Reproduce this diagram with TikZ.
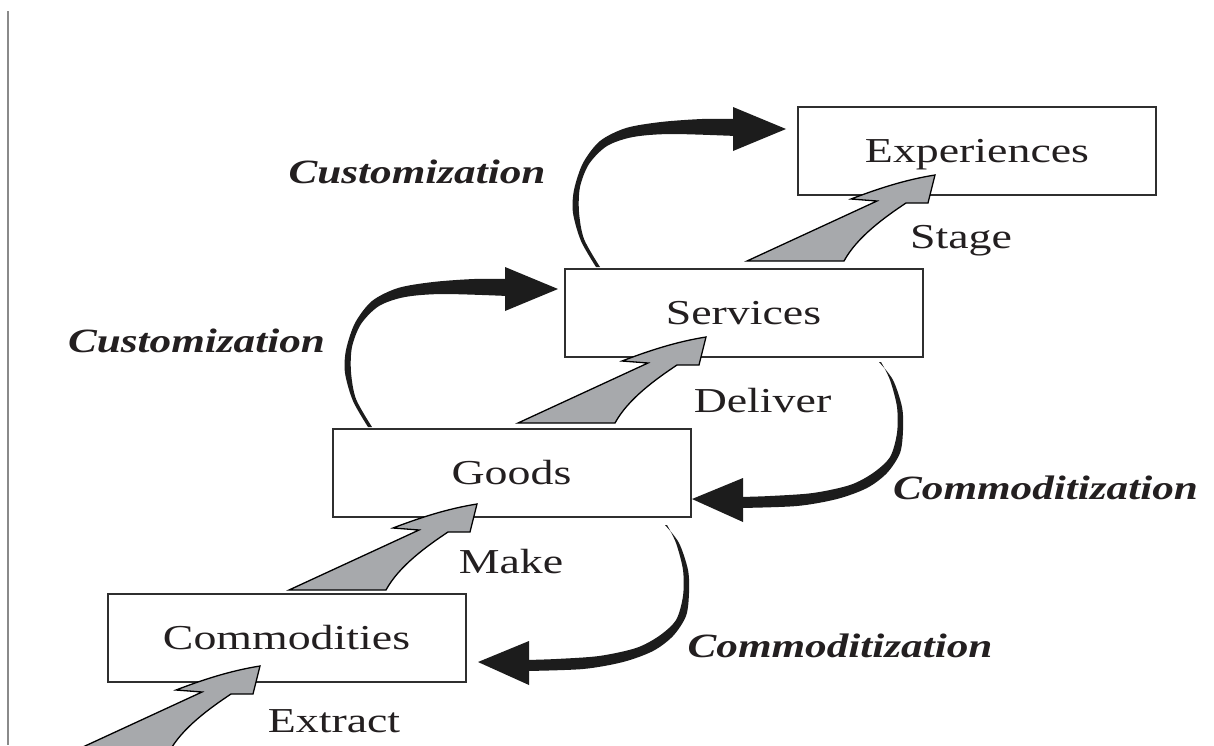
\documentclass[tikz,border=0pt]{standalone}
\usepackage{fontspec}
\newfontfamily\labfont{Liberation Serif}[FakeStretch=1.31]
\newfontfamily\bifont{Liberation Serif}[FakeStretch=1.27]
\definecolor{ink}{HTML}{231F20}
\definecolor{arrgray}{HTML}{A7A9AC}
\definecolor{boxline}{HTML}{2F2F2F}
\definecolor{edgegray}{HTML}{8A8A8A}
\definecolor{blk}{HTML}{1C1C1C}
\tikzset{
  box/.style={draw=boxline, line width=2pt, fill=white, minimum width=358pt, minimum height=88pt,
    inner sep=0pt, text height=23pt, text depth=0pt, text=ink, font=\labfont\fontsize{35}{40}\selectfont},
  lab/.style={font=\labfont\fontsize{35}{40}\selectfont, text=ink, anchor=base, inner sep=0pt},
  bilab/.style={font=\bifont\fontsize{34}{40}\bfseries\itshape, text=ink, anchor=base, inner sep=0pt},
  grayarr/.style={fill=arrgray, draw=black, line width=1.3pt, line join=miter},
  blackarr/.style={fill=blk, draw=none}
}
\newcommand\grayarrow[1]{%
  \begin{scope}[shift={#1}]
  \filldraw[grayarr] (-188,86) -- (-58,26) -- (-84,24) .. controls (-50,11) and (-25,4) .. (0,0)
     -- (-7,28) -- (-29,28) .. controls (-50,42) and (-78,62) .. (-91,86) -- cycle;
  \end{scope}}
\newcommand\custarrow[1]{%
  \begin{scope}[shift={#1}]
  \fill[blackarr] plot[smooth] coordinates {(-190,138) (-205,112) (-213,84) (-212,61) (-203,34) (-186,12) (-160,-1) (-125,-7) (-84,-10) (-50,-10)}
     -- plot[smooth] coordinates {(-50,7) (-115,5) (-153,8) (-179,17) (-197,35) (-206,58) (-207,83) (-202,110) (-186,138)} -- cycle;
  \fill[blackarr] (-53,-22) -- (0,0) -- (-53,22) -- cycle;
  \end{scope}}
\newcommand\commarrow[1]{%
  \begin{scope}[shift={#1}]
  \fill[blackarr] plot[smooth] coordinates {(187,-136) (201,-118) (210,-91) (211,-68) (208,-45) (195,-25) (175,-10) (145,1) (105,8) (48,10)}
     -- plot[smooth] coordinates {(48,-1) (78,-2) (121,-5) (158,-13) (181,-25) (198,-41) (205,-65) (205,-91) (198,-118) (189,-136)} -- cycle;
  \fill[blackarr] (51,-20) -- (0,1) -- (51,24) -- cycle;
  \end{scope}}
\begin{document}
\begin{tikzpicture}[x=1pt,y=-1pt]
\clip (0,0) rectangle (1214,745);
\fill[white] (0,0) rectangle (1214,745);
% left margin rule
\coordinate (lt) at (8,11);
\coordinate (lb) at (8,745);
\draw[edgegray, line width=1.5pt] (lt) -- (lb);
% stage boxes
\node[box] (exp) at (977,151) {Experiences};
\node[box] (srv) at (743.5,312.5) {Services};
\node[box] (gds) at (511.5,473) {Goods};
\node[box] (com) at (286.5,637.5) {Commodities};
% gray progression arrows
\grayarrow{(260,666)}
\grayarrow{(477,504)}
\grayarrow{(706,337)}
\grayarrow{(935,175)}
% customization arrows
\custarrow{(558,289)}
\custarrow{(786,129)}
% commoditization arrows
\commarrow{(692,498)}
\commarrow{(478,661)}
% labels
\node[lab] (extract) at (334,732) {Extract};
\node[lab] (make) at (511,573) {Make};
\node[lab] (deliver) at (762.5,412) {Deliver};
\node[lab] (stage) at (961,248) {Stage};
\node[bilab] (cust1) at (417,183) {Customization};
\node[bilab] (cust2) at (196.5,352) {Customization};
\node[bilab] (comm1) at (1045.5,499) {Commoditization};
\node[bilab] (comm2) at (840,657) {Commoditization};
\end{tikzpicture}
\end{document}
